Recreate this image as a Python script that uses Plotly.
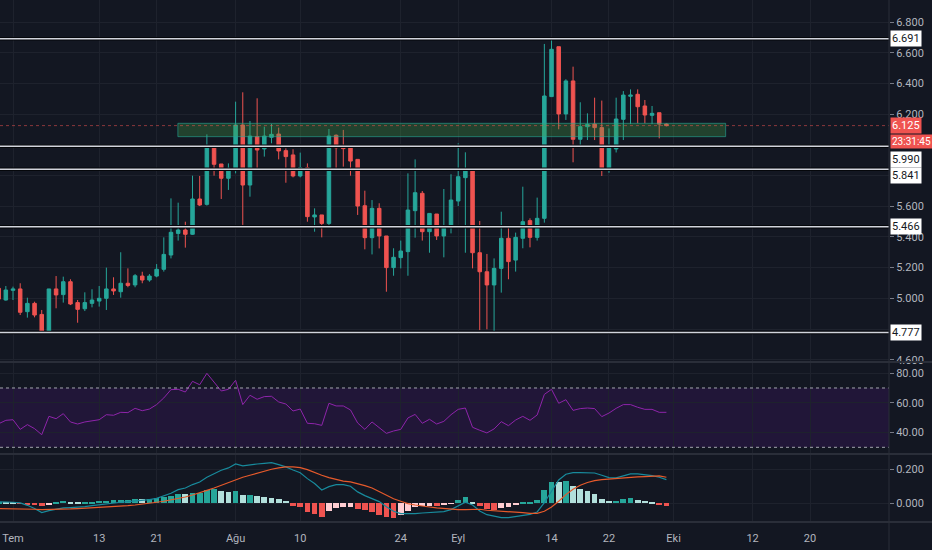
import pandas as pd
import plotly.graph_objects as go
from plotly.subplots import make_subplots

# Günlük mumlar : 29 Haziran - 30 Eylül
tarihler = pd.date_range("2020-06-29", "2020-09-30", freq="D")

acilis = [5.065, 4.989, 5.052, 5.061, 4.913, 4.967, 4.895, 4.783, 5.061, 5.024,
          5.108, 4.972, 4.932, 4.967, 4.982, 5.000, 5.061, 5.043, 5.098, 5.087,
          5.145, 5.119, 5.145, 5.189, 5.282, 5.423, 5.445, 5.417, 5.647, 5.612,
          5.992, 5.875, 5.782, 5.840, 6.129, 5.738, 6.053, 5.973, 6.049, 6.070,
          5.962, 5.934, 5.797, 5.851, 5.530, 5.543, 5.488, 6.062, 5.988, 5.979,
          5.905, 5.603, 5.395, 5.586, 5.406, 5.200, 5.265, 5.304, 5.571, 5.684,
          5.434, 5.549, 5.406, 5.467, 5.634, 5.786, 5.840, 5.297, 5.173, 5.087,
          5.195, 5.391, 5.249, 5.391, 5.506, 5.397, 5.521, 6.314, 6.639, 6.201,
          6.416, 6.036, 6.118, 6.135, 6.112, 5.840, 5.973, 6.166, 6.316, 6.329,
          6.253, 6.192, 6.209, 6.135]
yuksek = [5.085, 5.080, 5.076, 5.098, 5.004, 4.978, 4.924, 5.061, 5.145, 5.141,
          5.124, 4.989, 5.039, 5.059, 5.080, 5.200, 5.137, 5.300, 5.195, 5.158,
          5.173, 5.158, 5.223, 5.397, 5.651, 5.623, 5.499, 5.799, 5.797, 6.068,
          6.000, 5.875, 5.879, 6.281, 6.342, 6.155, 6.303, 6.118, 6.136, 6.112,
          5.977, 5.971, 5.949, 5.879, 5.586, 5.543, 6.103, 6.068, 6.097, 5.979,
          5.905, 5.701, 5.640, 5.619, 5.406, 5.326, 5.376, 5.814, 5.905, 5.699,
          5.553, 5.549, 5.712, 5.808, 6.010, 5.951, 5.840, 5.504, 5.289, 5.260,
          5.564, 5.467, 5.428, 5.727, 5.521, 5.656, 6.657, 6.700, 6.639, 6.427,
          6.509, 6.277, 6.205, 6.307, 6.288, 6.107, 6.307, 6.350, 6.361, 6.361,
          6.292, 6.253, 6.209, 6.140]
dusuk = [4.985, 4.985, 4.989, 4.891, 4.874, 4.876, 4.776, 4.772, 4.935, 4.972,
         4.956, 4.841, 4.917, 4.941, 4.946, 4.924, 5.022, 5.004, 5.072, 5.072,
         5.098, 5.108, 5.137, 5.174, 5.260, 5.376, 5.330, 5.413, 5.601, 5.604,
         5.799, 5.647, 5.706, 5.814, 5.478, 5.662, 5.836, 5.923, 6.010, 5.905,
         5.753, 5.788, 5.788, 5.499, 5.434, 5.397, 5.460, 5.847, 5.858, 5.799,
         5.543, 5.319, 5.286, 5.325, 5.043, 5.147, 5.195, 5.147, 5.395, 5.376,
         5.297, 5.380, 5.267, 5.423, 5.601, 5.297, 5.195, 4.793, 4.798, 4.772,
         5.037, 5.124, 5.174, 5.326, 5.332, 5.376, 5.493, 6.314, 6.101, 6.162,
         5.886, 5.981, 6.031, 6.031, 5.797, 5.818, 5.950, 6.031, 6.135, 6.140,
         6.140, 6.135, 6.042, 6.120]
kapanis = [4.995, 5.054, 5.061, 4.909, 4.967, 4.891, 4.783, 5.061, 5.022, 5.108,
           4.963, 4.928, 4.972, 4.989, 5.000, 5.061, 5.048, 5.098, 5.084, 5.147,
           5.119, 5.145, 5.189, 5.286, 5.430, 5.445, 5.417, 5.647, 5.608, 5.992,
           5.873, 5.782, 5.847, 6.129, 5.738, 6.057, 5.966, 6.057, 6.068, 5.960,
           5.923, 5.797, 5.851, 5.532, 5.543, 5.488, 6.057, 5.981, 5.975, 5.894,
           5.601, 5.395, 5.586, 5.406, 5.200, 5.267, 5.308, 5.575, 5.688, 5.434,
           5.553, 5.406, 5.467, 5.640, 5.792, 5.840, 5.297, 5.173, 5.087, 5.195,
           5.391, 5.239, 5.397, 5.499, 5.397, 5.521, 6.318, 6.622, 6.201, 6.416,
           6.036, 6.118, 6.133, 6.112, 5.840, 5.981, 6.168, 6.324, 6.324, 6.248,
           6.194, 6.205, 6.135, 6.125]

rsi = [45.9, 48.2, 48.6, 42.1, 45.3, 42.6, 38.5, 50.9, 49.3, 52.7,
       47.1, 45.7, 47.1, 48.0, 48.6, 52.0, 51.6, 53.6, 53.4, 56.3,
       54.7, 55.8, 58.8, 63.3, 68.9, 69.1, 67.3, 74.5, 72.2, 79.9,
       74.0, 68.0, 69.1, 75.2, 58.8, 65.1, 62.4, 64.2, 64.4, 60.6,
       59.2, 54.5, 55.8, 46.2, 45.9, 44.8, 59.7, 57.9, 57.9, 55.2,
       46.4, 42.1, 47.1, 43.3, 39.4, 41.0, 42.1, 49.8, 52.2, 46.2,
       48.9, 45.7, 47.5, 52.0, 55.6, 56.5, 43.5, 41.5, 39.7, 42.4,
       47.3, 44.6, 48.4, 50.9, 48.2, 51.8, 65.7, 69.1, 59.7, 62.1,
       54.9, 56.1, 56.5, 56.1, 50.7, 53.1, 56.3, 58.8, 58.8, 57.0,
       55.6, 55.6, 53.6, 53.6]

macd = [0.008, 0.008, 0.006, 0.002, -0.012, -0.031, -0.055, -0.043, -0.035, -0.027,
        -0.025, -0.024, -0.020, -0.014, -0.008, -0.004, 0.002, 0.006, 0.010, 0.014,
        0.016, 0.022, 0.029, 0.043, 0.059, 0.080, 0.090, 0.110, 0.125, 0.153,
        0.175, 0.194, 0.208, 0.231, 0.220, 0.227, 0.231, 0.235, 0.239, 0.227,
        0.214, 0.196, 0.180, 0.145, 0.116, 0.078, 0.098, 0.110, 0.110, 0.100,
        0.067, 0.045, 0.029, 0.010, -0.020, -0.047, -0.061, -0.063, -0.061, -0.057,
        -0.053, -0.051, -0.049, -0.037, -0.014, 0.006, -0.010, -0.045, -0.067, -0.076,
        -0.084, -0.084, -0.078, -0.073, -0.065, -0.051, 0.004, 0.071, 0.137, 0.171,
        0.180, 0.180, 0.180, 0.178, 0.165, 0.151, 0.149, 0.161, 0.173, 0.173,
        0.169, 0.163, 0.153, 0.139]
sinyal = [-0.031, -0.031, -0.033, -0.033, -0.035, -0.035, -0.037, -0.037, -0.035, -0.035,
          -0.033, -0.031, -0.029, -0.027, -0.025, -0.024, -0.022, -0.018, -0.014, -0.010,
          -0.006, 0.000, 0.006, 0.012, 0.020, 0.029, 0.037, 0.049, 0.061, 0.076,
          0.090, 0.106, 0.122, 0.139, 0.153, 0.165, 0.178, 0.190, 0.200, 0.208,
          0.214, 0.214, 0.210, 0.198, 0.180, 0.165, 0.151, 0.141, 0.130, 0.126,
          0.116, 0.104, 0.090, 0.069, 0.051, 0.027, 0.012, -0.002, -0.010, -0.018,
          -0.022, -0.027, -0.031, -0.035, -0.037, -0.037, -0.035, -0.035, -0.041, -0.043,
          -0.047, -0.049, -0.051, -0.055, -0.059, -0.059, -0.047, -0.022, 0.012, 0.051,
          0.082, 0.106, 0.122, 0.133, 0.139, 0.143, 0.145, 0.149, 0.151, 0.155,
          0.157, 0.159, 0.161, 0.153]
histogram = [0.004, 0.004, 0.002, -0.004, -0.006, -0.008, -0.017, -0.006, 0.002, 0.016,
             0.010, 0.005, 0.006, 0.008, 0.012, 0.016, 0.017, 0.020, 0.022, 0.026,
             0.024, 0.028, 0.031, 0.039, 0.045, 0.055, 0.053, 0.061, 0.063, 0.080,
             0.082, 0.073, 0.065, 0.073, 0.049, 0.051, 0.045, 0.039, 0.033, 0.025,
             0.012, -0.016, -0.022, -0.053, -0.063, -0.078, -0.043, -0.029, -0.020, -0.020,
             -0.033, -0.037, -0.053, -0.068, -0.082, -0.086, -0.068, -0.048, -0.019, -0.017,
             -0.016, -0.018, -0.009, -0.002, 0.020, 0.039, 0.010, -0.017, -0.033, -0.037,
             -0.026, -0.023, -0.009, 0.006, 0.008, 0.020, 0.079, 0.126, 0.124, 0.134,
             0.104, 0.085, 0.071, 0.055, 0.026, 0.012, 0.016, 0.026, 0.030, 0.022,
             0.012, 0.006, -0.006, -0.013]

# Çizilmiş seviyeler ve bölge
seviyeler = [6.691, 5.990, 5.841, 5.466, 4.777]
bolge_alt, bolge_ust = 6.053, 6.140
bolge_bas, bolge_son = "2020-07-23 23:00", "2020-10-08 06:00"
son_fiyat = 6.125
geri_sayim = "23:31:45"

# Zaman ekseni etiketleri
x_etiket_tarih = ["2020-07-01", "2020-07-13", "2020-07-21", "2020-08-01", "2020-08-10", "2020-08-24",
                  "2020-09-01", "2020-09-14", "2020-09-22", "2020-10-01", "2020-10-12", "2020-10-20"]
x_etiket_metin = ["Tem", "13", "21", "Ağu", "10", "24", "Eyl", "14", "22", "Eki", "12", "20"]

# etiketlerin altında kalan fiyatlar sadece ızgara olarak
fiyat_tikleri = [4.6, 5.0, 5.2, 5.4, 5.6, 6.2, 6.4, 6.6, 6.8]
fiyat_gizli = [4.8, 5.8, 6.0]
rsi_tikleri = [40, 60, 80]
macd_tikleri = [0.0, 0.2]

ARKA = '#131722'
IZGARA = '#1e222d'
YAZI = '#b2b5be'
YESIL = '#26a69a'
KIRMIZI = '#ef5350'

# sayaç etiketiyle çakışmasın diye aşağı itilen seviye etiketleri (piksel)
etiket_kaydir = {5.990: -13, 5.841: -6}

# histogram renkleri (tradingview mantığı)
renkler = []
for i, h in enumerate(histogram):
    onceki = histogram[i - 1] if i > 0 else 0
    if h >= 0:
        renkler.append(YESIL if h > onceki else '#b2dfdb')
    else:
        renkler.append(KIRMIZI if h < onceki else '#ffcdd2')

fig = make_subplots(rows=3, cols=1, shared_xaxes=True, vertical_spacing=0)

fig.add_trace(go.Candlestick(x=tarihler, open=acilis, high=yuksek, low=dusuk, close=kapanis,
                             increasing=dict(line=dict(color=YESIL, width=1), fillcolor=YESIL),
                             decreasing=dict(line=dict(color=KIRMIZI, width=1), fillcolor=KIRMIZI),
                             whiskerwidth=0, hoverinfo='skip'), row=1, col=1)

fig.add_trace(go.Scatter(x=tarihler, y=rsi, mode='lines', line=dict(color='#8e24aa', width=1)),
              row=2, col=1)

fig.add_trace(go.Bar(x=tarihler, y=histogram, marker=dict(color=renkler, line=dict(width=0)),
                     width=0.8 * 86400000), row=3, col=1)
fig.add_trace(go.Scatter(x=tarihler, y=macd, mode='lines', line=dict(color='#188a9c', width=1.2)),
              row=3, col=1)
fig.add_trace(go.Scatter(x=tarihler, y=sinyal, mode='lines', line=dict(color='#e65a2b', width=1.2)),
              row=3, col=1)

# RSI bandı
fig.add_shape(type='rect', xref='paper', yref='y2', x0=0, x1=1, y0=30, y1=70,
              fillcolor='rgba(153,21,255,0.1)', line_width=0, layer='below')
for seviye in [30, 70]:
    fig.add_shape(type='line', xref='paper', yref='y2', x0=0, x1=1, y0=seviye, y1=seviye,
                  line=dict(color='#a3a6af', width=1, dash='3px,3px'))

# bölge
fig.add_shape(type='rect', xref='x', yref='y', x0=bolge_bas, x1=bolge_son, y0=bolge_alt, y1=bolge_ust,
              fillcolor='rgba(67,160,71,0.32)', line=dict(color='rgba(38,166,154,0.6)', width=1))

# son fiyat çizgisi
fig.add_shape(type='line', xref='paper', yref='y', x0=0, x1=1, y0=son_fiyat, y1=son_fiyat,
              line=dict(color='rgba(239,83,80,0.55)', width=1, dash='dot'))

# yatay seviyeler
for s in seviyeler:
    fig.add_shape(type='line', xref='paper', yref='y', x0=0, x1=1, y0=s, y1=s,
                  line=dict(color='#05070b', width=3.5))
    fig.add_shape(type='line', xref='paper', yref='y', x0=0, x1=1, y0=s, y1=s,
                  line=dict(color='#d1d4dc', width=1.5))
    fig.add_annotation(x=1, xref='paper', y=s, yref='y', text=f'{s:.3f}', showarrow=False,
                       xanchor='left', xshift=1, yshift=etiket_kaydir.get(s, 0),
                       bgcolor='#ffffff', borderpad=1, font=dict(color=ARKA, size=11))

fig.add_annotation(x=1, xref='paper', y=son_fiyat, yref='y', text=f'{son_fiyat:.3f}', showarrow=False,
                   xanchor='left', xshift=1, bgcolor=KIRMIZI, borderpad=1, font=dict(color='#ffffff', size=11))
fig.add_annotation(x=1, xref='paper', y=son_fiyat, yref='y', text=geri_sayim, showarrow=False,
                   xanchor='left', xshift=1, yshift=-16, bgcolor=KIRMIZI, borderpad=1,
                   font=dict(color='#ffffff', size=10))

# panel ayraçları ve sağ eksen çizgisi
for yy in [0.3065, 0.1303, 0.0]:
    fig.add_shape(type='line', xref='paper', yref='paper', x0=0, x1=1.049, y0=yy, y1=yy,
                  line=dict(color='#2a2e39', width=2))
fig.add_shape(type='line', xref='paper', yref='paper', x0=1, x1=1, y0=-0.054, y1=1,
              line=dict(color='#2a2e39', width=1))

fig.update_xaxes(range=["2020-06-29 04:30", "2020-10-31 00:00"], tickvals=x_etiket_tarih,
                 ticktext=x_etiket_metin, showgrid=True, gridcolor=IZGARA, zeroline=False,
                 showline=False, rangeslider_visible=False, ticks='')
fig.update_xaxes(showticklabels=False, row=1, col=1)
fig.update_xaxes(showticklabels=False, row=2, col=1)
fig.update_xaxes(showticklabels=True, ticklabelstandoff=8, row=3, col=1)

fig.update_yaxes(side='right', showgrid=True, gridcolor=IZGARA, zeroline=False, showline=False,
                 ticks='outside', ticklen=4, tickcolor='#787b86')
fig.update_layout(
    yaxis=dict(domain=[0.3084, 1], range=[4.5915, 6.9433], tickvals=fiyat_tikleri, tickformat='.3f',
               minor=dict(tickvals=fiyat_gizli, showgrid=True, gridcolor=IZGARA, ticks='')),
    yaxis2=dict(domain=[0.1322, 0.3046], range=[26.17, 86.86], tickvals=rsi_tikleri, tickformat='.2f'),
    yaxis3=dict(domain=[0, 0.1284], range=[-0.110, 0.284], tickvals=macd_tikleri, tickformat='.3f'),
)

fig.update_layout(width=932, height=550, margin=dict(l=0, r=43, t=0, b=28),
                  paper_bgcolor=ARKA, plot_bgcolor=ARKA, showlegend=False, bargap=0,
                  font=dict(family='Roboto', size=11, color=YAZI))

# sayfa kenar boşluğunu kaldır
fig.write_html("out.html", config={'displayModeBar': False},
               post_script="document.body.style.margin='0';")
